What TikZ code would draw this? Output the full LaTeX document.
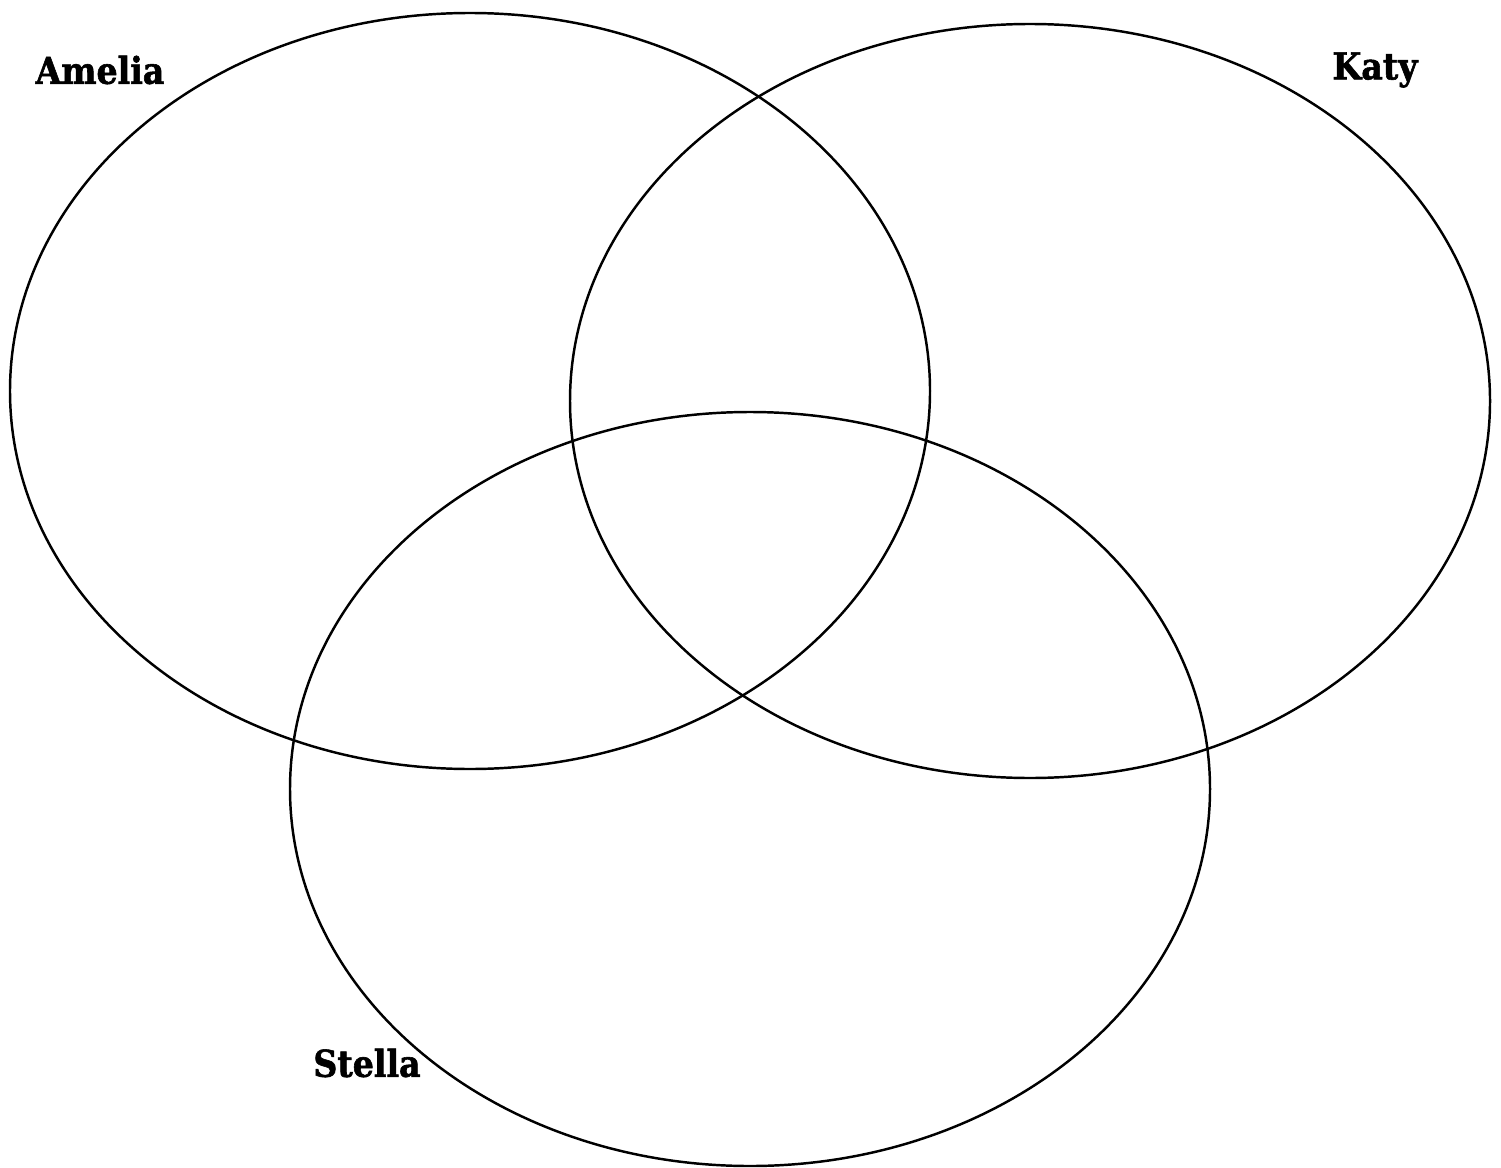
\documentclass[tikz,border=0pt]{standalone}
\usepackage{fontspec}
\newfontfamily\labelfont[FakeBold=1.6]{DejaVu Serif Condensed}

\tikzset{
  setline/.style={line width=0.7pt},
  setlabel/.style={font=\labelfont\bfseries\fontsize{10.5}{12}\selectfont}
}

\begin{document}
\begin{tikzpicture}[x=0.01cm, y=-0.01cm]
  \useasboundingbox (0,0) rectangle (1501,1167);
  % Three sets: Amelia, Katy and Stella.
  \draw[setline] (470,391) ellipse [x radius=460, y radius=378];
  \draw[setline] (1030,401) ellipse [x radius=460, y radius=377];
  \draw[setline] (750,789) ellipse [x radius=460, y radius=377];

  % Set labels
  \node[setlabel] (amelia) at (100,70) {Amelia};
  \node[setlabel] (katy) at (1375,70) {Katy};
  \node[setlabel] (stella) at (367,1063) {Stella};
\end{tikzpicture}
\end{document}
